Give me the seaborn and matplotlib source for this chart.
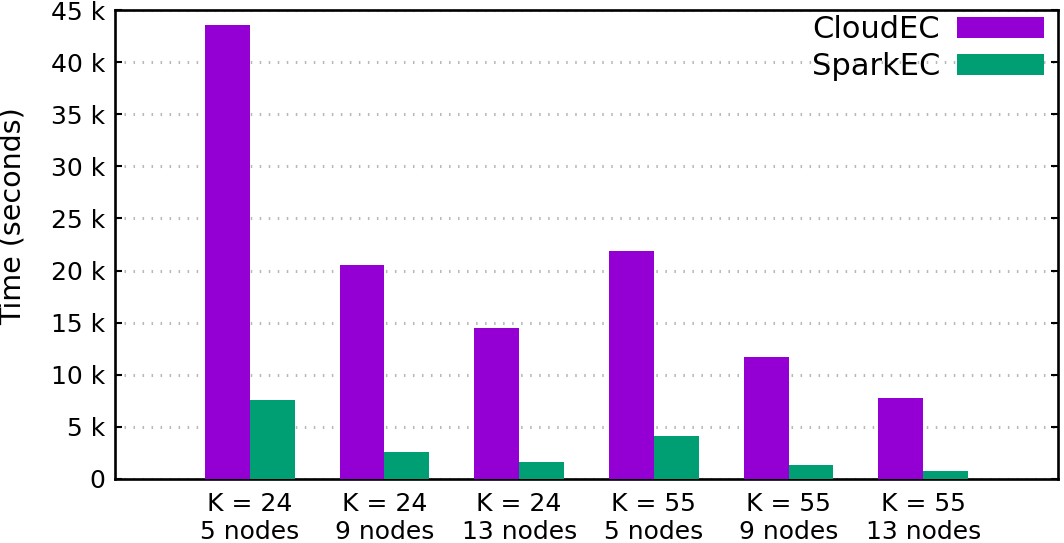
import matplotlib
matplotlib.use("Agg")
import matplotlib.pyplot as plt
import seaborn as sns
import pandas as pd
from matplotlib.ticker import FixedLocator, FuncFormatter

categories = ["K = 24\n5 nodes", "K = 24\n9 nodes", "K = 24\n13 nodes",
              "K = 55\n5 nodes", "K = 55\n9 nodes", "K = 55\n13 nodes"]
cloudec = [43600, 20500, 14450, 21850, 11680, 7740]
sparkec = [7580, 2600, 1630, 4130, 1310, 770]
series_names = ["CloudEC", "SparkEC"]
colors = ["#9400D3", "#009E73"]
y_ticks = [0, 5000, 10000, 15000, 20000, 25000, 30000, 35000, 40000, 45000]

df = pd.DataFrame({
    "category": categories * 2,
    "series": [series_names[0]] * len(categories) + [series_names[1]] * len(categories),
    "time": cloudec + sparkec,
})

sns.set_style("white")
plt.rcParams["font.family"] = ["DejaVu Sans"]
plt.rcParams["text.color"] = "black"
plt.rcParams["axes.labelcolor"] = "black"
plt.rcParams["xtick.color"] = "black"
plt.rcParams["ytick.color"] = "black"

fig = plt.figure(figsize=(10.64, 5.43), dpi=100)
ax = fig.add_axes([115 / 1064, 64 / 543, (1058 - 115) / 1064, (479 - 10) / 543])

sns.barplot(data=df, x="category", y="time", hue="series", palette=colors,
            width=2 / 3, dodge=True, saturation=1, ax=ax, zorder=3,
            edgecolor="none", linewidth=0)

ax.set_xlim(-1, 6)
ax.set_ylim(0, 45000)
ax.yaxis.set_major_locator(FixedLocator(y_ticks))
ax.yaxis.set_major_formatter(FuncFormatter(lambda v, p: "0" if v == 0 else f"{int(v/1000)} k"))

ax.grid(axis="y", color="#b8b8b8", linewidth=2.2, linestyle=(0, (0.5, 2.45)), zorder=0)
ax.grid(axis="x", visible=False)
ax.set_axisbelow(True)

for s in ax.spines.values():
    s.set_linewidth(1.9)
    s.set_color("black")
    s.set_visible(True)

ax.tick_params(axis="y", direction="in", length=5, width=1.5, left=True, right=True,
               labelsize=18, pad=7)
ax.tick_params(axis="x", length=0, labelsize=18, pad=9.5)
for lab in ax.get_xticklabels():
    lab.set_linespacing(1.2)

ax.set_xlabel("")
ax.set_ylabel("Time (seconds)", fontsize=20.5)
ax.yaxis.set_label_coords(-0.094, 0.56)

handles, labels = ax.get_legend_handles_labels()
ax.legend(handles, labels, loc="upper right", frameon=False, markerfirst=False,
          fontsize=22, handlelength=2.85, handleheight=0.68, handletextpad=0.55,
          labelspacing=0.24, borderaxespad=0.0, borderpad=0.0,
          bbox_to_anchor=(1044 / 1064, 1 - 15.5 / 543), bbox_transform=fig.transFigure)

fig.savefig("out.png", dpi=100)
